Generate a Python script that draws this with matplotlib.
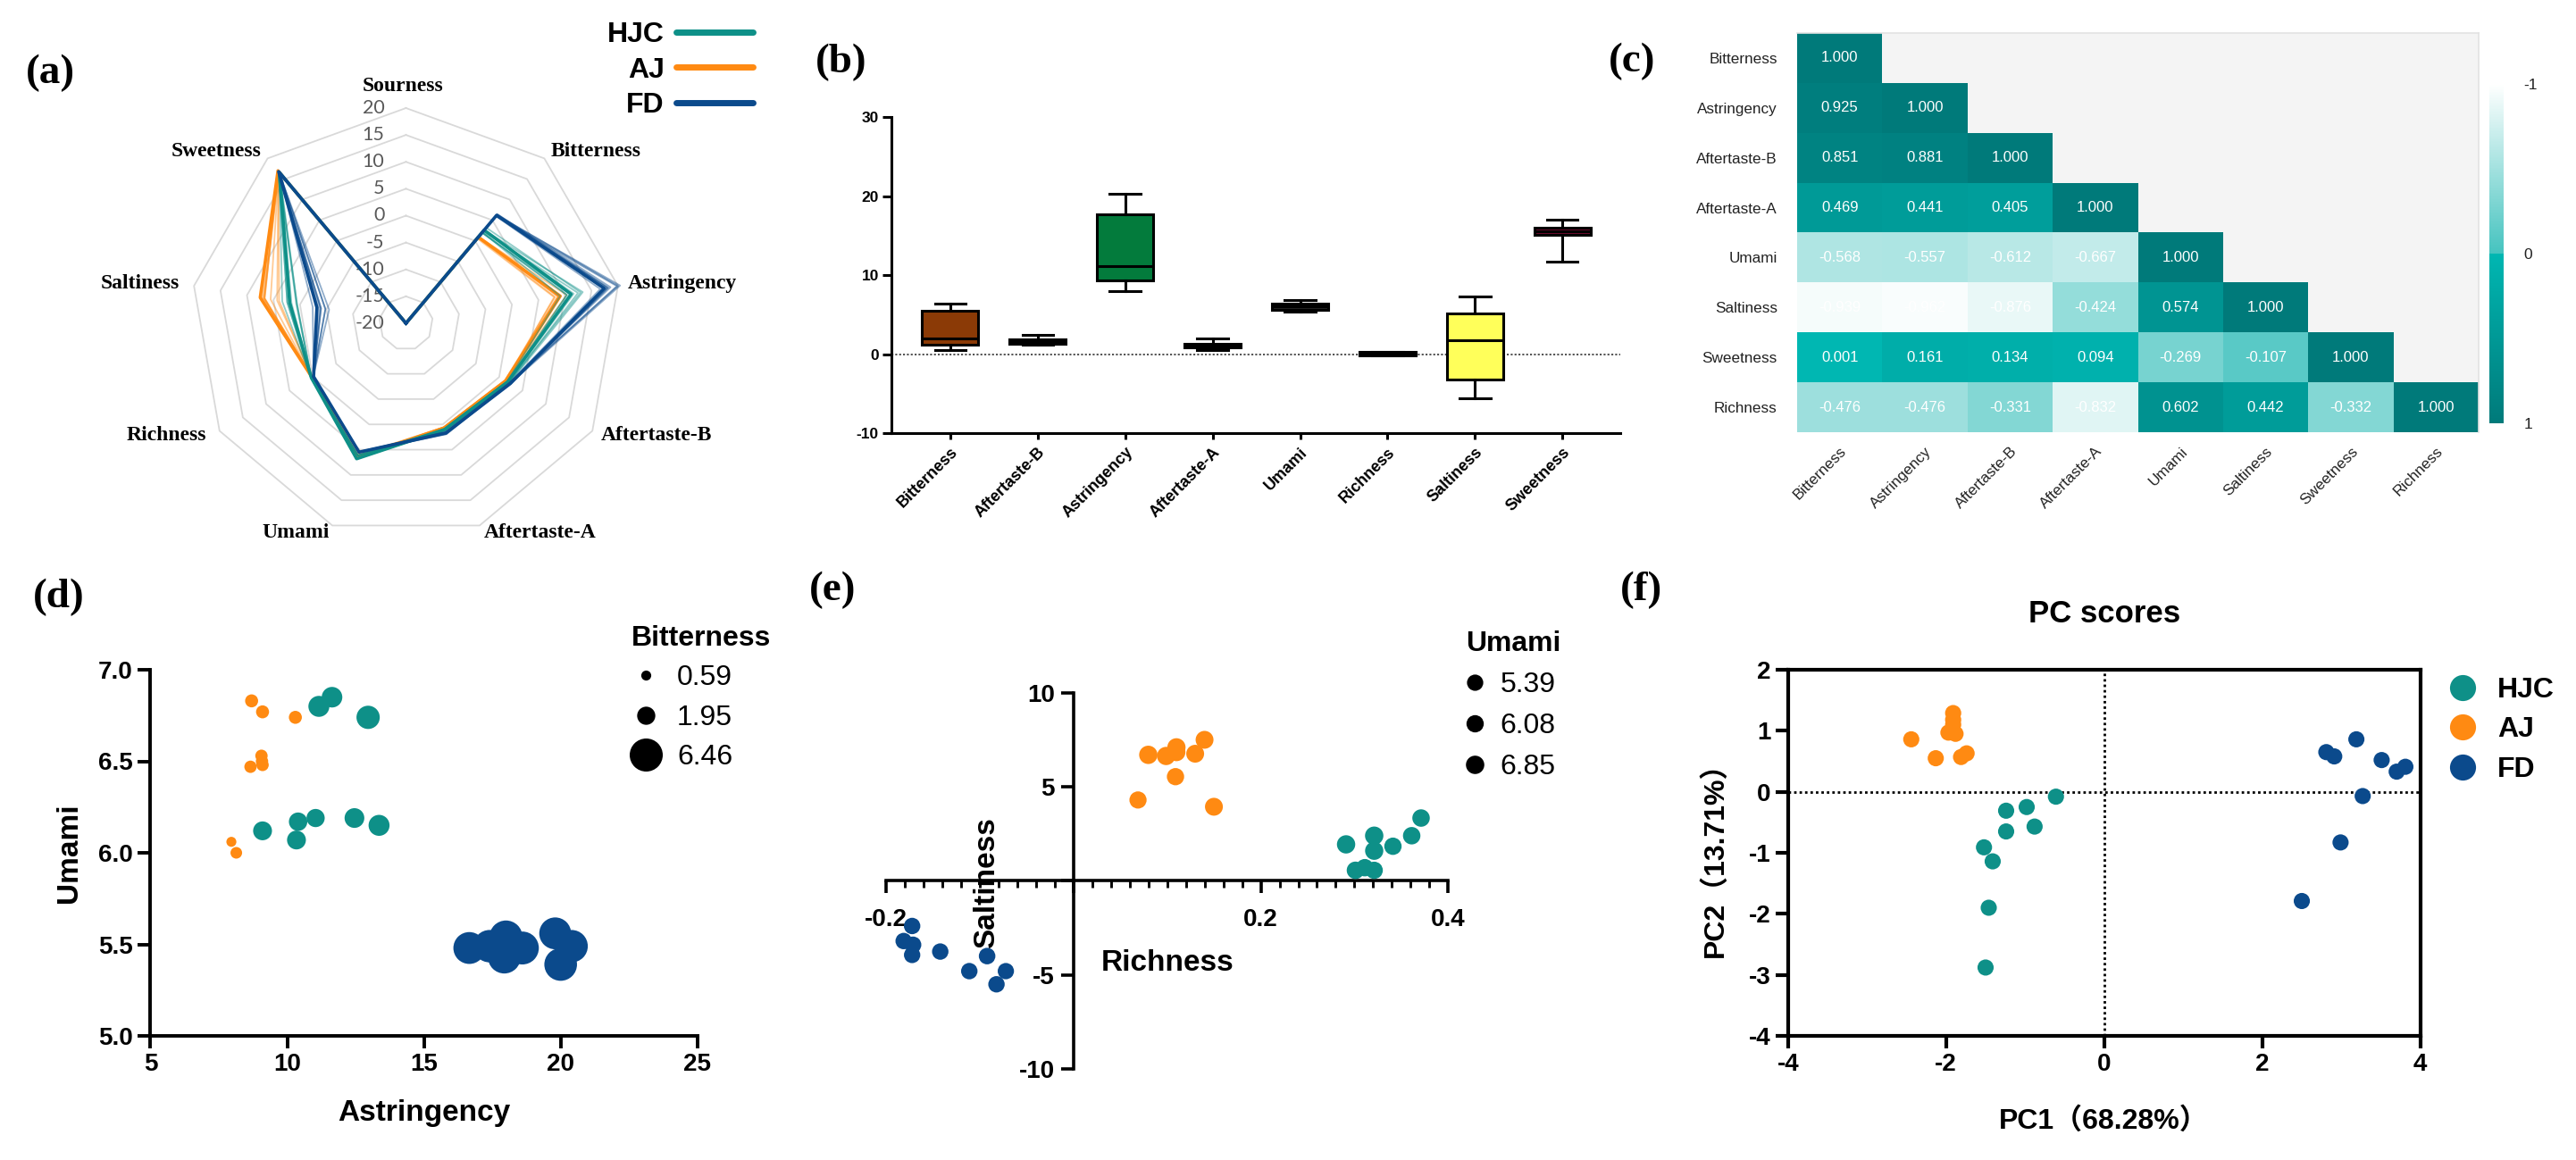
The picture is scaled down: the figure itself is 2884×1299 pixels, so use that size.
import numpy as np
import matplotlib
matplotlib.use("Agg")
import matplotlib.pyplot as plt
from matplotlib.colors import LinearSegmentedColormap, Normalize
from matplotlib.lines import Line2D
from matplotlib.ticker import MultipleLocator, FuncFormatter
from matplotlib.cm import ScalarMappable

plt.rcParams['font.family'] = ['Liberation Sans', 'DejaVu Sans']
plt.rcParams['axes.unicode_minus'] = False

W, H = 2884, 1299

# ======================= DATA =======================
groups = ["HJC", "AJ", "FD"]

# ---- (a) radar: replicate e-tongue readings per group ----
radar_attributes = ["Sourness", "Bitterness", "Astringency", "Aftertaste-B",
                    "Aftertaste-A", "Umami", "Richness", "Saltiness", "Sweetness"]
radar_ticks = [-20, -15, -10, -5, 0, 5, 10, 15, 20]

hjc_sourness = [-20, -20, -20, -20, -20, -20, -20, -20, -20]
hjc_bitterness = [2.6, 2.5, 3.2, 2.1, 2.0, 1.95, 2.3, 2.6, 2.1]
hjc_astringency = [11.16, 11.64, 12.96, 9.10, 10.40, 11.04, 12.46, 13.36, 10.34]
hjc_aftertaste_b = [1.8, 1.9, 2.0, 1.7, 1.8, 1.9, 2.1, 2.2, 1.8]
hjc_aftertaste_a = [1.0, 1.1, 1.2, 0.9, 1.0, 1.1, 1.3, 1.2, 1.0]
hjc_umami = [6.80, 6.85, 6.74, 6.12, 6.17, 6.19, 6.19, 6.15, 6.07]
hjc_richness = [0.291, 0.321, 0.321, 0.341, 0.361, 0.371, 0.301, 0.311, 0.321]
hjc_saltiness = [1.94, 2.40, 1.60, 1.84, 2.40, 3.34, 0.56, 0.70, 0.56]
hjc_sweetness = [16.6, 16.8, 16.5, 16.7, 16.9, 16.6, 16.8, 16.7, 16.5]

aj_sourness = [-20, -20, -20, -20, -20, -20, -20, -20, -20]
aj_bitterness = [1.0, 1.0, 1.0, 0.9, 0.9, 0.9, 0.59, 0.8, 0.9]
aj_astringency = [8.70, 9.10, 10.30, 9.06, 8.66, 9.10, 7.96, 8.14, 9.08]
aj_aftertaste_b = [1.3, 1.4, 1.5, 1.3, 1.2, 1.4, 1.5, 1.3, 1.4]
aj_aftertaste_a = [0.6, 0.7, 0.8, 0.6, 0.55, 0.7, 0.8, 0.6, 0.7]
aj_umami = [6.83, 6.77, 6.74, 6.53, 6.47, 6.48, 6.06, 6.00, 6.50]
aj_richness = [0.080, 0.099, 0.110, 0.110, 0.130, 0.140, 0.109, 0.069, 0.150]
aj_saltiness = [6.70, 6.64, 7.10, 6.84, 6.76, 7.50, 5.54, 4.30, 3.94]
aj_sweetness = [16.9, 17.0, 16.8, 16.9, 16.7, 17.0, 16.8, 16.9, 16.8]

fd_sourness = [-20, -20, -20, -20, -20, -20, -20, -20, -20]
fd_bitterness = [6.0, 6.2, 6.46, 6.3, 6.4, 6.0, 6.2, 6.3, 6.1]
fd_astringency = [16.66, 17.40, 18.00, 17.94, 18.60, 19.80, 20.40, 20.00, 18.20]
fd_aftertaste_b = [2.2, 2.4, 2.3, 2.5, 2.2, 2.3, 2.4, 2.2, 2.3]
fd_aftertaste_a = [1.5, 1.7, 1.9, 1.6, 1.8, 1.95, 1.7, 1.6, 1.8]
fd_umami = [5.48, 5.49, 5.54, 5.43, 5.48, 5.56, 5.49, 5.39, 5.47]
fd_richness = [-0.172, -0.181, -0.171, -0.172, -0.142, -0.092, -0.111, -0.072, -0.082]
fd_saltiness = [-2.40, -3.20, -3.40, -3.94, -3.76, -4.00, -4.80, -4.80, -5.50]
fd_sweetness = [16.7, 16.8, 16.6, 16.9, 16.7, 16.8, 16.6, 16.7, 16.8]

# ---- (b) box plot five-number summaries ----
box_categories = ["Bitterness", "Aftertaste-B", "Astringency", "Aftertaste-A",
                  "Umami", "Richness", "Saltiness", "Sweetness"]
box_min = [0.59, 1.25, 8.0, 0.55, 5.39, -0.18, -5.5, 11.7]
box_q1 = [1.25, 1.38, 9.3, 0.84, 5.60, -0.12, -3.2, 15.05]
box_median = [2.05, 1.60, 11.2, 1.00, 6.08, 0.10, 1.8, 15.5]
box_q3 = [5.5, 1.88, 17.75, 1.34, 6.45, 0.31, 5.2, 16.0]
box_max = [6.46, 2.50, 20.25, 1.96, 6.85, 0.37, 7.3, 17.0]

# ---- (c) correlation matrix (lower triangle) ----
corr_labels = ["Bitterness", "Astringency", "Aftertaste-B", "Aftertaste-A",
               "Umami", "Saltiness", "Sweetness", "Richness"]
corr_bitterness = [1.000]
corr_astringency = [0.925, 1.000]
corr_aftertaste_b = [0.851, 0.881, 1.000]
corr_aftertaste_a = [0.469, 0.441, 0.405, 1.000]
corr_umami = [-0.568, -0.557, -0.612, -0.667, 1.000]
corr_saltiness = [-0.939, -0.962, -0.876, -0.424, 0.574, 1.000]
corr_sweetness = [0.001, 0.161, 0.134, 0.094, -0.269, -0.107, 1.000]
corr_richness = [-0.476, -0.476, -0.331, -0.832, 0.602, 0.442, -0.332, 1.000]

# ---- (d)/(e) legends ----
bitterness_legend = [0.59, 1.95, 6.46]
umami_legend = [5.39, 6.08, 6.85]

# ---- (f) PCA scores ----
pc1_hjc = [-0.61, -0.98, -1.24, -0.88, -1.24, -1.52, -1.41, -1.46, -1.50]
pc2_hjc = [-0.08, -0.25, -0.31, -0.57, -0.65, -0.91, -1.14, -1.90, -2.88]
pc1_aj = [-1.91, -1.91, -1.97, -1.88, -2.44, -2.13, -1.81, -1.74, -1.91]
pc2_aj = [1.29, 1.18, 0.97, 0.95, 0.86, 0.55, 0.57, 0.63, 1.10]
pc1_fd = [3.19, 2.81, 2.91, 3.51, 3.70, 3.81, 3.27, 2.99, 2.50]
pc2_fd = [0.86, 0.65, 0.58, 0.52, 0.33, 0.41, -0.07, -0.83, -1.79]
pc1_label = "PC1（68.28%）"
pc2_label = "PC2（13.71%）"

# ======================= STYLE =======================
col = {"HJC": "#0E9088", "AJ": "#FF8A12", "FD": "#0B4A8C"}
box_colors = ["#8B3A06", "#222222", "#037B3C", "#222222", "#222222", "#222222", "#FFFF5A", "#6E0B2E"]
serif = "Liberation Serif"


def pbox(x0, y0, x1, y1):
    return [x0 / W, 1 - y1 / H, (x1 - x0) / W, (y1 - y0) / H]


fig = plt.figure(figsize=(W / 100, H / 100), dpi=100)

# panel letters
for lab, (px, py) in zip(["(a)", "(b)", "(c)", "(d)", "(e)", "(f)"],
                         [(29, 82), (913, 70), (1801, 69), (37, 669), (906, 661), (1814, 661)]):
    fig.text(px / W, 1 - py / H, lab, ha="left", va="center", fontsize=34,
             fontweight="bold", family=serif)

# ======================= (a) RADAR =======================
R = 241.0
cx, cy = 454.5, 362.0
axr = fig.add_axes(pbox(cx - 1.5 * R, cy - 1.3 * R, cx + 1.5 * R, cy + 1.3 * R))
axr.set_xlim(-1.5, 1.5)
axr.set_ylim(-1.3, 1.3)
axr.axis("off")
axr.patch.set_alpha(0)

nattr = len(radar_attributes)
theta = np.deg2rad(90 - 360.0 / nattr * np.arange(nattr))
rmin, rmax = radar_ticks[0], radar_ticks[-1]


def radar_xy(vals):
    r = (np.asarray(vals, float) - rmin) / (rmax - rmin)
    r = np.append(r, r[0])
    t = np.append(theta, theta[0])
    return r * np.cos(t), r * np.sin(t)


for tv in radar_ticks[1:]:
    gx, gy = radar_xy([tv] * nattr)
    axr.plot(gx, gy, color="#D9D9D9", lw=1.3, zorder=1)
for tv in radar_ticks:
    axr.text(-0.10, (tv - rmin) / (rmax - rmin), str(tv), ha="right", va="center",
             fontsize=15.5, color="#595959", family=["Lato", "DejaVu Sans"], zorder=2)

label_pos = [(-0.015, 1.10), (0.882, 0.80), (1.284, 0.183), (1.164, -0.519),
             (0.624, -0.975), (-0.512, -0.975), (-1.114, -0.519), (-1.234, 0.183),
             (-0.882, 0.80)]
for name, (lx, ly) in zip(radar_attributes, label_pos):
    axr.text(lx, ly, name, ha="center", va="center", fontsize=17, fontweight="bold",
             family=serif)

group_matrix = {
    "HJC": np.array([hjc_sourness, hjc_bitterness, hjc_astringency, hjc_aftertaste_b,
                     hjc_aftertaste_a, hjc_umami, hjc_richness, hjc_saltiness, hjc_sweetness]).T,
    "AJ": np.array([aj_sourness, aj_bitterness, aj_astringency, aj_aftertaste_b,
                    aj_aftertaste_a, aj_umami, aj_richness, aj_saltiness, aj_sweetness]).T,
    "FD": np.array([fd_sourness, fd_bitterness, fd_astringency, fd_aftertaste_b,
                    fd_aftertaste_a, fd_umami, fd_richness, fd_saltiness, fd_sweetness]).T,
}
bold_rep = {"AJ": 5, "HJC": 0, "FD": 1}
for z, g in enumerate(["AJ", "HJC", "FD"]):
    M = group_matrix[g]
    for row in M:
        x, y = radar_xy(row)
        axr.plot(x, y, color=col[g], lw=1.3, alpha=0.45, zorder=3 + z)
    x, y = radar_xy(M[bold_rep[g]])
    axr.plot(x, y, color=col[g], lw=2.6, zorder=3.5 + z)

handles = [Line2D([], [], color=col[g], lw=5, solid_capstyle="round") for g in groups]
fig.legend(handles, groups, loc="upper left", bbox_to_anchor=(680 / W, 1 - 24 / H),
           frameon=False, markerfirst=False, prop=dict(weight="bold", size=23),
           handlelength=2.7, handletextpad=0.4, labelspacing=0.3, borderpad=0,
           borderaxespad=0)

# ======================= (b) BOX PLOT =======================
axb = fig.add_axes(pbox(997.8, 131, 1814, 485.4))
stats = [dict(med=m, q1=a, q3=b, whislo=lo, whishi=hi, fliers=[])
         for lo, a, m, b, hi in zip(box_min, box_q1, box_median, box_q3, box_max)]
lwb = 2.2
bp = axb.bxp(stats, positions=np.arange(len(stats)), widths=0.64, capwidths=0.35,
             patch_artist=True, showfliers=False,
             boxprops=dict(lw=lwb, edgecolor="black"), whiskerprops=dict(lw=lwb, color="black"),
             capprops=dict(lw=lwb, color="black"), medianprops=dict(lw=lwb, color="black"),
             zorder=3)
for patch, c in zip(bp["boxes"], box_colors):
    patch.set_facecolor(c)
axb.axhline(0, color="#444444", lw=1.3, ls=(0, (1.2, 1.2)), zorder=1)
axb.set_xlim(-0.673, 7.66)
axb.set_ylim(-10, 30)
axb.set_yticks([-10, 0, 10, 20, 30])
axb.set_xticks(np.arange(len(box_categories)))
axb.set_xticklabels(box_categories, rotation=45, ha="right", rotation_mode="anchor",
                    fontsize=13, fontweight="bold")
for t in axb.get_yticklabels():
    t.set_fontweight("bold")
    t.set_fontsize(12.5)
for s in ["top", "right"]:
    axb.spines[s].set_visible(False)
for s in ["left", "bottom"]:
    axb.spines[s].set_linewidth(lwb)
axb.tick_params(axis="y", width=lwb, length=7, pad=3)
axb.tick_params(axis="x", width=lwb, length=5, pad=4)
axb.patch.set_alpha(0)

# ======================= (c) HEATMAP =======================
axc = fig.add_axes(pbox(2012, 37, 2775, 484))
rows = [corr_bitterness, corr_astringency, corr_aftertaste_b, corr_aftertaste_a,
        corr_umami, corr_saltiness, corr_sweetness, corr_richness]
n = len(corr_labels)
corr = np.full((n, n), np.nan)
for i, r in enumerate(rows):
    corr[i, :len(r)] = r
cmap = LinearSegmentedColormap.from_list(
    "teal", [(0.0, "#FFFFFF"), (0.4999, "#45C3BF"), (0.5, "#00B7B2"), (1.0, "#007A7A")])
norm = Normalize(-1, 1)
axc.pcolormesh(np.arange(n + 1), np.arange(n + 1), np.ma.masked_invalid(corr),
               cmap=cmap, norm=norm)
axc.set_xlim(0, n)
axc.set_ylim(n, 0)
axc.set_facecolor("#F4F4F4")
for i, r in enumerate(rows):
    for j, v in enumerate(r):
        axc.text(j + 0.5, i + 0.5, f"{v:.3f}", ha="center", va="center", color="white",
                 fontsize=12)
axc.set_yticks(np.arange(n) + 0.5)
axc.set_yticklabels(corr_labels, fontsize=12.3, color="#222222")
axc.set_xticks(np.arange(n) + 0.5)
axc.set_xticklabels(corr_labels, fontsize=12.3, color="#222222", rotation=45, ha="right",
                    rotation_mode="anchor")
axc.tick_params(length=0)
axc.tick_params(axis="y", pad=16)
axc.tick_params(axis="x", pad=10)
for s in ["left", "bottom"]:
    axc.spines[s].set_visible(False)
for s in ["top", "right"]:
    axc.spines[s].set_color("#E2E2E2")
    axc.spines[s].set_linewidth(1.2)

cax = fig.add_axes(pbox(2787, 94, 2803, 474))
cb = fig.colorbar(ScalarMappable(norm=norm, cmap=cmap), cax=cax, ticks=[-1, 0, 1])
cax.invert_yaxis()
cb.outline.set_visible(False)
cax.tick_params(length=0, labelsize=12.5, pad=16, labelcolor="#222222")
cb.set_ticklabels(["-1", "0", "1"])

# ======================= (d) BUBBLE =======================
axd = fig.add_axes(pbox(168.4, 750, 780.8, 1160))
size_d = 110
for g, xs, ys, bs in [("AJ", aj_astringency, aj_umami, aj_bitterness),
                      ("HJC", hjc_astringency, hjc_umami, hjc_bitterness),
                      ("FD", fd_astringency, fd_umami, fd_bitterness)]:
    axd.scatter(xs, ys, s=np.array(bs) * size_d, color=col[g], edgecolors="none", zorder=3)
axd.set_xlim(5, 25)
axd.set_ylim(5, 7)
axd.set_xticks([5, 10, 15, 20, 25])
axd.set_yticks([5.0, 5.5, 6.0, 6.5, 7.0])
axd.yaxis.set_major_formatter(FuncFormatter(lambda v, p: f"{v:.1f}"))
lwd = 2.8
for s in ["top", "right"]:
    axd.spines[s].set_visible(False)
for s in ["left", "bottom"]:
    axd.spines[s].set_linewidth(lwd)
axd.tick_params(width=lwd, length=10, labelsize=20, pad=4)
for t in axd.get_xticklabels() + axd.get_yticklabels():
    t.set_fontweight("bold")
axd.set_xlabel("Astringency", fontsize=24, fontweight="bold")
axd.set_ylabel("Umami", fontsize=24, fontweight="bold")
axd.xaxis.set_label_coords(0.5, -0.173)
axd.yaxis.set_label_coords(-0.123, 0.5)
hd = [Line2D([], [], ls="", marker="o", color="black", markeredgewidth=0,
             markersize=np.sqrt(v * size_d)) for v in bitterness_legend]
axd.legend(hd, [f"{v:.2f}" for v in bitterness_legend], title="Bitterness",
           title_fontproperties=dict(weight="bold", size=23), prop=dict(size=23),
           loc="upper left", bbox_to_anchor=(707 / W, 1 - 700 / H),
           bbox_transform=fig.transFigure, frameon=False, handlelength=1.0,
           handletextpad=0.6, labelspacing=0.45, borderpad=0, borderaxespad=0,
           alignment="left")

# ======================= (e) SCATTER =======================
axe = fig.add_axes(pbox(991.8, 775.8, 1621.4, 1197))
size_e = 32
for g, xs, ys, us in [("AJ", aj_richness, aj_saltiness, aj_umami),
                      ("HJC", hjc_richness, hjc_saltiness, hjc_umami),
                      ("FD", fd_richness, fd_saltiness, fd_umami)]:
    axe.scatter(xs, ys, s=np.array(us) * size_e, color=col[g], edgecolors="none", zorder=3)
axe.set_xlim(-0.2, 0.4)
axe.set_ylim(-10, 10)
axe.spines["left"].set_position(("data", 0))
axe.spines["bottom"].set_position(("data", 0))
for s in ["top", "right"]:
    axe.spines[s].set_visible(False)
lwe = 2.6
for s in ["left", "bottom"]:
    axe.spines[s].set_linewidth(lwe)
axe.set_xticks([-0.2, 0, 0.2, 0.4])
axe.xaxis.set_minor_locator(MultipleLocator(0.02))
axe.set_yticks([-10, -5, 0, 5, 10])
hide0 = FuncFormatter(lambda v, p: "" if abs(v) < 1e-9 else f"{v:g}")
axe.xaxis.set_major_formatter(hide0)
axe.yaxis.set_major_formatter(hide0)
axe.tick_params(which="major", width=lwe, length=10, labelsize=20)
axe.tick_params(which="minor", width=lwe * 0.8, length=6)
axe.tick_params(axis="x", which="major", pad=12)
axe.tick_params(axis="y", which="major", pad=5)
for t in axe.get_xticklabels() + axe.get_yticklabels():
    t.set_fontweight("bold")
axe.set_xlabel("Richness", fontsize=24, fontweight="bold")
axe.set_ylabel("Saltiness", fontsize=24, fontweight="bold")
axe.xaxis.set_label_coords(0.501, 0.318)
axe.yaxis.set_label_coords(0.204, 0.496)
axe.patch.set_alpha(0)
he = [Line2D([], [], ls="", marker="o", color="black", markeredgewidth=0,
             markersize=np.sqrt(v * size_e)) for v in umami_legend]
axe.legend(he, [f"{v:.2f}" for v in umami_legend], title="Umami",
           title_fontproperties=dict(weight="bold", size=23), prop=dict(size=23),
           loc="upper left", bbox_to_anchor=(1641 / W, 1 - 706 / H),
           bbox_transform=fig.transFigure, frameon=False, handlelength=0.6,
           handletextpad=0.6, labelspacing=0.5, borderpad=0, borderaxespad=0,
           alignment="left")

# ======================= (f) PCA =======================
axf = fig.add_axes(pbox(2001.7, 750, 2709.8, 1160))
for g, xs, ys in [("HJC", pc1_hjc, pc2_hjc), ("AJ", pc1_aj, pc2_aj), ("FD", pc1_fd, pc2_fd)]:
    axf.scatter(xs, ys, s=170, color=col[g], edgecolors="none", zorder=3, label=g)
axf.axhline(0, color="black", lw=2, ls=(0, (1, 1.2)), zorder=1)
axf.axvline(0, color="black", lw=2, ls=(0, (1, 1.2)), zorder=1)
axf.set_xlim(-4, 4)
axf.set_ylim(-4, 2)
axf.set_xticks([-4, -2, 0, 2, 4])
axf.set_yticks([-4, -3, -2, -1, 0, 1, 2])
lwf = 3
for s in axf.spines.values():
    s.set_linewidth(lwf)
axf.tick_params(width=lwf, length=10, labelsize=20, pad=4)
for t in axf.get_xticklabels() + axf.get_yticklabels():
    t.set_fontweight("bold")
cjk = ["Liberation Sans", "Noto Sans CJK SC"]
axf.set_xlabel(pc1_label, fontsize=23, fontweight="bold", family=cjk)
axf.set_ylabel(pc2_label, fontsize=23, fontweight="bold", family=cjk)
axf.xaxis.set_label_coords(0.5, -0.195)
axf.yaxis.set_label_coords(-0.093, 0.5)
axf.set_title("PC scores", fontsize=25, fontweight="bold", pad=38)
hf = [Line2D([], [], ls="", marker="o", color=col[g], markeredgewidth=0, markersize=21)
      for g in groups]
axf.legend(hf, groups, loc="upper left", bbox_to_anchor=(2741 / W, 1 - 758 / H),
           bbox_transform=fig.transFigure, frameon=False, prop=dict(weight="bold", size=23),
           handlelength=1.0, handletextpad=0.72, labelspacing=0.45, borderpad=0,
           borderaxespad=0)

fig.savefig("out.png", dpi=100)
